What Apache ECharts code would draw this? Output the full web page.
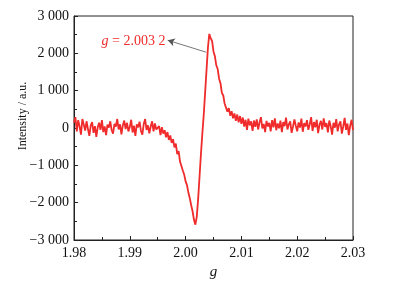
<!DOCTYPE html>
<html>
<head>
<meta charset="utf-8">
<script src="https://cdn.jsdelivr.net/npm/echarts@6/dist/echarts.min.js"></script>
<style>html,body{margin:0;padding:0;background:#fff;}#c{width:393px;height:286px;}</style>
</head>
<body>
<div id="c"></div>
<script>
// g axis sampling
const gStart = 1.98;
const gStep = 0.00025;
// EPR intensity (a.u.), one value per g sample
const intensity = [
  150, 290, -90, 210, 40, -180, 240, 90, -70, 180,
  -30, -210, 70, 160, -130, 50, -240, 20, 140, -50,
  210, -110, 40, -190, 90, 10, 180, -60, -150, 110,
  40, 240, -40, 100, -170, 70, 200, -30, 140, -90,
  30, 220, -120, 60, -210, 100, 20, 170, -80, -180,
  110, 240, -50, 70, -140, 40, 180, -90, 120, -40,
  -70, 50, -190, 20, -150, -60, -250, -110, -320, -200,
  -400, -300, -520, -420, -700, -620, -900, -890, -1140, -1250,
  -1430, -1530, -1730, -1880, -2070, -2230, -2460, -2590, -2380, -1900,
  -1300, -700, -150, 350, 950, 1550, 2150, 2520, 2400, 2330,
  2050, 1920, 1680, 1580, 1320, 1200, 940, 870, 650, 610,
  440, 530, 330, 450, 260, 390, 190, 360, 150, 320,
  110, 280, 40, 220, -50, 250, 70, 180, -80, 200,
  30, 230, -40, 150, 290, -10, 110, -110, 190, 40,
  140, -90, 210, 20, 260, -60, 120, -10, 200, -110,
  160, 50, 280, -40, 100, 180, -130, 40, 230, 60,
  -90, 150, 10, 250, -100, 130, 40, 210, -50, 100,
  290, -80, 160, 20, 220, -140, 90, 190, -40, 260,
  30, 130, -120, 200, 50, -180, 140, 10, 240, -90,
  100, 180, -150, 40, 270, -50, 120, -190, 70, 220,
  -60
];
const xTicks = [1.98, 1.99, 2.00, 2.01, 2.02, 2.03];
const yTicks = [-3000, -2000, -1000, 0, 1000, 2000, 3000];
const annotationText = '2.003 2';
const arrowFrom = [2.0037, 2030];
const arrowTo = [1.9968, 2350];
const labelAt = [1.99066, 2330];

const seriesData = intensity.map((v, i) => [+(gStart + i * gStep).toFixed(5), v]);

const font = '"Liberation Serif", "Times New Roman", serif';
const fmtY = v => {
  const s = Math.abs(v).toString();
  const t = s.length > 3 ? s.slice(0, s.length - 3) + ' ' + s.slice(-3) : s;
  return (v < 0 ? '\u2212' : '') + t;
};

const chart = echarts.init(document.getElementById('c'), null, {renderer: 'canvas'});
chart.setOption({
  animation: false,
  backgroundColor: '#fff',
  grid: {left: 74, right: 40, top: 16, bottom: 46, show: true, borderColor: '#222', borderWidth: 1,
         containLabel: false, outerBoundsMode: 'none'},
  xAxis: {
    type: 'value', min: 1.98, max: 2.03, interval: 0.01,
    name: 'g', nameLocation: 'middle', nameGap: 25, nameMoveOverlap: false,
    nameTextStyle: {fontFamily: font, fontStyle: 'italic', fontSize: 15, color: '#111'},
    axisLine: {onZero: false, lineStyle: {color: '#222', width: 1}},
    axisTick: {inside: true, length: 4, lineStyle: {color: '#222'}},
    minorTick: {show: true, splitNumber: 2, length: 3, lineStyle: {color: '#222'}},
    splitLine: {show: false},
    axisLabel: {fontFamily: font, fontSize: 14, color: '#111', margin: 6,
      formatter: v => xTicks.some(t => Math.abs(t - v) < 1e-9) ? v.toFixed(2) : ''}
  },
  yAxis: {
    type: 'value', min: -3000, max: 3000, interval: 1000,
    name: 'Intensity / a.u.', nameLocation: 'middle', nameGap: 45, nameMoveOverlap: false,
    nameTextStyle: {fontFamily: font, fontSize: 12, color: '#111', padding: [0, 0, 0, 24]},
    axisLine: {show: true, onZero: false, lineStyle: {color: '#222', width: 1}},
    axisTick: {show: true, inside: true, length: 4, lineStyle: {color: '#222'}},
    minorTick: {show: true, splitNumber: 2, length: 3, lineStyle: {color: '#222'}},
    splitLine: {show: false},
    axisLabel: {fontFamily: font, fontSize: 14, color: '#111', margin: 5,
      formatter: v => yTicks.includes(v) ? fmtY(v) : ''}
  },
  series: [{
    type: 'line',
    data: seriesData,
    showSymbol: false,
    sampling: 'none',
    lineStyle: {color: '#ef2b2b', width: 1.8},
    itemStyle: {color: '#ef2b2b'},
    markLine: {
      silent: true,
      symbol: ['none', 'arrow'],
      symbolSize: [6, 7],
      label: {show: false},
      lineStyle: {color: '#555', width: 0.8, type: 'solid'},
      data: [[{coord: arrowFrom}, {coord: arrowTo}]]
    },
    markPoint: {
      silent: true,
      symbol: 'circle', symbolSize: 0,
      data: [{coord: labelAt}],
      label: {
        show: true, position: 'inside',
        formatter: '{i|g} = ' + annotationText,
        fontFamily: font, fontSize: 14, color: '#ef2b2b',
        rich: {i: {fontFamily: font, fontStyle: 'italic', fontSize: 14, color: '#ef2b2b'}}
      }
    }
  }]
});
</script>
</body>
</html>
